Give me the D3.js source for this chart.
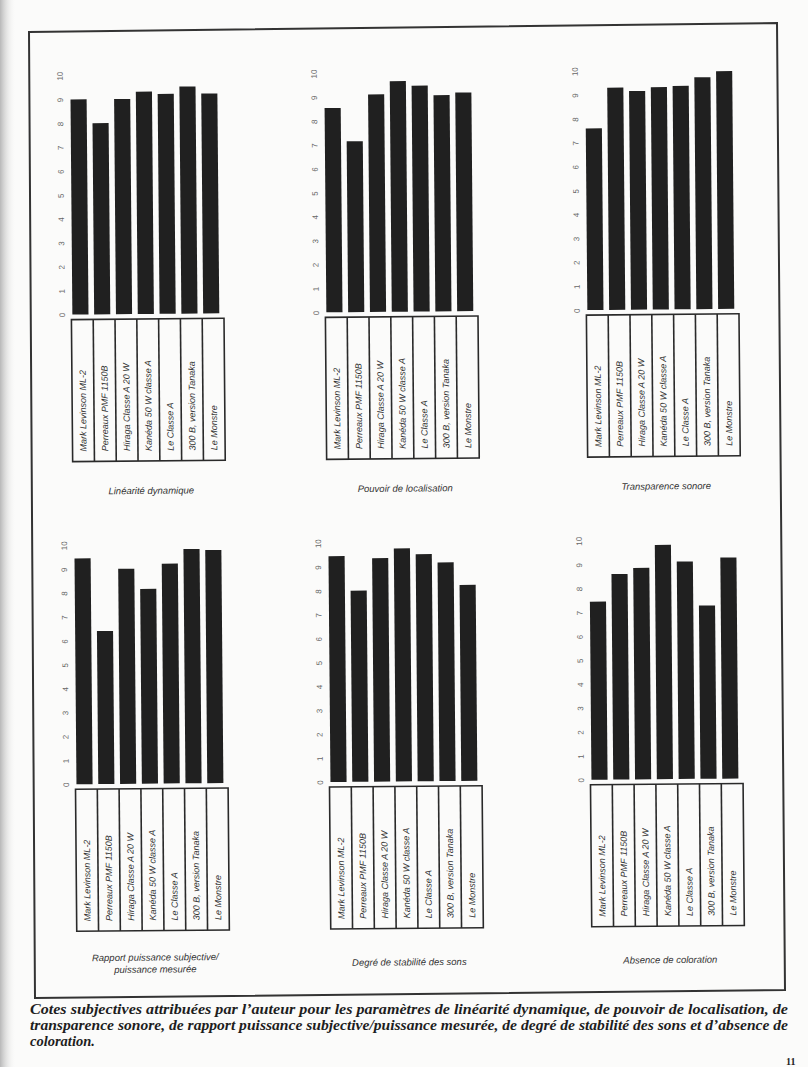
<!DOCTYPE html>
<html><head><meta charset="utf-8">
<script src="https://cdn.jsdelivr.net/npm/d3@7"></script>
<style>html,body{margin:0;padding:0;background:#fbfbfa;}svg{display:block;}</style>
</head><body>
<script>
const categories = ["Mark Levinson ML-2","Perreaux PMF 1150B","Hiraga Classe A 20 W","Kanéda 50 W classe A","Le Classe A","300 B, version Tanaka","Le Monstre"];
const titles = [["Linéarité dynamique"],["Pouvoir de localisation"],["Transparence sonore"],["Rapport puissance subjective/","puissance mesurée"],["Degré de stabilité des sons"],["Absence de coloration"]];
const linearite    = [9.0, 8.0, 9.0, 9.3, 9.2, 9.5, 9.2];
const localisation = [8.55, 7.15, 9.1, 9.65, 9.45, 9.05, 9.15];
const transparence = [7.6, 9.3, 9.15, 9.3, 9.35, 9.7, 9.95];
const rapport      = [9.45, 6.4, 9.0, 8.15, 9.2, 9.8, 9.75];
const stabilite    = [9.45, 8.0, 9.35, 9.75, 9.5, 9.15, 8.2];
const coloration   = [7.45, 8.6, 8.85, 9.8, 9.1, 7.25, 9.25];
const series = [linearite, localisation, transparence, rapport, stabilite, coloration];
const tickValues = [0,1,2,3,4,5,6,7,8,9,10];
const captionLines = [
 "Cotes subjectives attribuées par l’auteur pour les paramètres de linéarité dynamique, de pouvoir de localisation, de",
 "transparence sonore, de rapport puissance subjective/puissance mesurée, de degré de stabilité des sons et d’absence de",
 "coloration."
];

const W = 808, H = 1067;
const svg = d3.select("body").append("svg").attr("width", W).attr("height", H);
const defs = svg.append("defs");
const g0 = defs.append("linearGradient").attr("id","shade").attr("x1","0").attr("x2","1");
g0.append("stop").attr("offset","0").attr("stop-color","#b8b8b8");
g0.append("stop").attr("offset","1").attr("stop-color","#fbfbfa").attr("stop-opacity",0);
svg.append("rect").attr("width",W).attr("height",H).attr("fill","#fbfbfa");
svg.append("rect").attr("x",0).attr("y",0).attr("width",16).attr("height",H).attr("fill","url(#shade)");

// frame (scanned, slightly skewed)
svg.append("path")
  .attr("d","M29,32 L777,23 L785,990 L35,998 Z")
  .attr("fill","none").attr("stroke","#333").attr("stroke-width",2);

const root = svg.append("g").attr("transform","rotate(-0.5,404,500)");

const colX = [73, 327, 588];
const rowZero = [311.7, 781.4];
const step = 21.8;
const plotH = 239;

series.forEach((vals, k) => {
  const col = k % 3, row = Math.floor(k / 3);
  const x0 = colX[col], y0 = rowZero[row];
  const x = d3.scaleBand().domain(categories).range([x0, x0 + step * categories.length]).padding(0);
  const y = d3.scaleLinear().domain([0, 10]).range([y0, y0 - plotH]);
  const g = root.append("g");

  // bars
  g.selectAll("rect.bar").data(vals).join("rect")
    .attr("class","bar")
    .attr("x",(d,i) => x(categories[i]) + 1)
    .attr("width", x.bandwidth() * 0.74)
    .attr("y", d => y(d))
    .attr("height", d => y(0) - y(d))
    .attr("fill","#202020");

  // y tick labels (rotated)
  const ax = g.append("g").attr("transform",`translate(${x0 - 9},0)`)
    .call(d3.axisLeft(y).tickValues(tickValues).tickSize(0).tickFormat(d3.format("d")));
  ax.select(".domain").remove();
  ax.selectAll(".tick line").remove();
  ax.selectAll("text")
    .attr("x",0).attr("y",0).attr("dy",null)
    .attr("transform","rotate(-90)")
    .attr("text-anchor","middle")
    .attr("dominant-baseline","central")
    .attr("fill","#666")
    .style("font-family","'Liberation Sans',Arial,sans-serif")
    .style("font-size","8px");

  // label box
  const bTop = y0 + 5, bBot = y0 + 147;
  g.append("rect").attr("x", x0).attr("y", bTop).attr("width", step * categories.length).attr("height", bBot - bTop)
    .attr("fill","none").attr("stroke","#2a2a2a").attr("stroke-width",1.6);
  g.selectAll("line.div").data(categories.slice(1)).join("line")
    .attr("x1", d => x(d)).attr("x2", d => x(d)).attr("y1", bTop).attr("y2", bBot)
    .attr("stroke","#2a2a2a").attr("stroke-width",1.6);
  g.selectAll("text.cat").data(categories).join("text")
    .attr("class","cat")
    .attr("transform", d => `translate(${x(d) + x.bandwidth()/2},${bBot - 10}) rotate(-90)`)
    .attr("dominant-baseline","central")
    .attr("fill","#333")
    .style("font-family","'Liberation Sans',Arial,sans-serif")
    .style("font-style","italic")
    .style("font-size","9px")
    .text(d => d);

  // title
  const cx = x0 + step * categories.length / 2;
  const lines = titles[k];
  const tBase = lines.length > 1 ? y0 + 177 : y0 + 180 + (row === 1 ? 4 : 0);
  g.selectAll("text.title").data(lines).join("text")
    .attr("class","title")
    .attr("x", cx + 2).attr("y", (d,i) => tBase + i * 12)
    .attr("text-anchor","middle")
    .attr("fill","#333")
    .style("font-family","'Liberation Sans',Arial,sans-serif")
    .style("font-style","italic")
    .style("font-size","9.5px")
    .text(d => d);
});

// caption
svg.selectAll("text.cap").data(captionLines).join("text")
  .attr("class","cap")
  .attr("x", 30).attr("y", (d,i) => 1014 + i * 16)
  .attr("fill","#1e1e1e")
  .style("font-family","'Liberation Serif','Times New Roman',serif")
  .style("font-style","italic")
  .style("font-weight","bold")
  .style("font-size","14.5px")
  .each(function(d,i){ if (i < 2) d3.select(this).attr("textLength", 758).attr("lengthAdjust","spacingAndGlyphs"); })
  .text(d => d);

svg.append("text").attr("x", 786).attr("y", 1065)
  .attr("fill","#222").style("font-family","'Liberation Serif',serif").style("font-weight","bold").style("font-size","10px")
  .text("11");
</script>
</body></html>
